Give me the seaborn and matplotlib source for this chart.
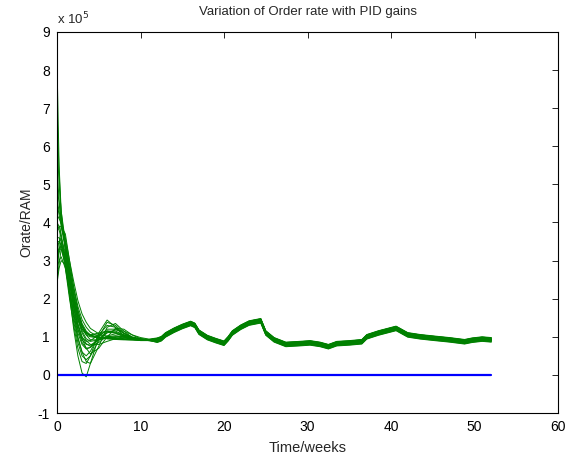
import numpy as np
import pandas as pd
import seaborn as sns
import matplotlib.pyplot as plt
from matplotlib.ticker import ScalarFormatter

# early transient, one row per PID gain setting (values in 1e5)
t_early = [0, 0.25, 0.5, 1, 1.5, 2, 2.5, 3, 3.5, 4, 5, 6, 7, 8, 9, 10, 11]
runs_early = [
    [8.2, 5.5, 4.3, 3.3, 2.5, 1.9, 1.45, 1.2, 1.05, 1.0, 0.97, 0.95, 0.94, 0.93, 0.92, 0.92, 0.92],
    [5.4, 4.6, 4.0, 3.4, 2.7, 2.1, 1.6, 1.3, 1.12, 1.04, 0.98, 0.96, 0.95, 0.93, 0.92, 0.92, 0.92],
    [2.6, 3.4, 3.9, 3.7, 3.0, 2.3, 1.7, 1.3, 1.05, 0.92, 0.92, 0.98, 1.0, 0.97, 0.94, 0.93, 0.92],
    [3.0, 3.3, 3.5, 3.0, 2.1, 1.2, 0.5, 0.05, -0.05, 0.3, 1.0, 1.38, 1.3, 1.1, 0.98, 0.92, 0.9],
    [3.5, 3.5, 3.4, 2.8, 2.0, 1.3, 0.7, 0.35, 0.3, 0.5, 1.1, 1.44, 1.25, 1.02, 0.93, 0.9, 0.9],
    [4.0, 3.9, 3.7, 3.0, 2.2, 1.5, 0.95, 0.6, 0.5, 0.62, 1.05, 1.3, 1.25, 1.08, 0.97, 0.93, 0.92],
    [3.2, 3.3, 3.3, 2.9, 2.2, 1.6, 1.1, 0.8, 0.68, 0.72, 1.0, 1.2, 1.2, 1.1, 1.0, 0.95, 0.93],
    [2.8, 3.0, 3.1, 2.8, 2.2, 1.65, 1.2, 0.92, 0.8, 0.78, 0.92, 1.1, 1.18, 1.15, 1.05, 0.98, 0.94],
    [4.5, 4.2, 3.9, 3.3, 2.6, 1.95, 1.5, 1.2, 1.08, 1.05, 1.1, 1.15, 1.1, 1.02, 0.96, 0.93, 0.92],
    [6.2, 5.0, 4.3, 3.5, 2.8, 2.1, 1.6, 1.28, 1.1, 1.02, 0.98, 0.97, 0.96, 0.94, 0.93, 0.92, 0.92],
    [3.8, 3.9, 3.9, 3.5, 2.9, 2.3, 1.8, 1.45, 1.25, 1.12, 1.0, 0.95, 0.93, 0.92, 0.92, 0.91, 0.91],
    [2.5, 2.9, 3.3, 3.2, 2.6, 2.0, 1.45, 1.1, 0.9, 0.8, 0.8, 0.88, 0.95, 0.98, 0.97, 0.94, 0.92],
    [3.6, 3.6, 3.5, 2.9, 2.1, 1.4, 0.85, 0.5, 0.4, 0.5, 0.9, 1.15, 1.15, 1.05, 0.97, 0.93, 0.91],
    [7.0, 5.3, 4.2, 3.3, 2.6, 2.0, 1.55, 1.25, 1.1, 1.05, 1.05, 1.02, 0.98, 0.95, 0.93, 0.92, 0.91],
    [3.3, 3.5, 3.6, 3.2, 2.5, 1.8, 1.3, 0.98, 0.88, 0.9, 1.05, 1.15, 1.12, 1.05, 0.98, 0.94, 0.92],
    [4.2, 4.1, 4.0, 3.6, 3.0, 2.45, 1.95, 1.6, 1.38, 1.22, 1.08, 1.0, 0.96, 0.94, 0.93, 0.92, 0.92],
    [2.4, 2.8, 3.0, 2.9, 2.4, 1.8, 1.3, 0.95, 0.7, 0.55, 0.7, 1.0, 1.22, 1.2, 1.05, 0.95, 0.91],
    [3.9, 3.8, 3.6, 3.1, 2.4, 1.75, 1.2, 0.85, 0.7, 0.72, 0.95, 1.12, 1.1, 1.0, 0.94, 0.92, 0.91],
    [5.0, 4.5, 4.1, 3.4, 2.7, 2.05, 1.5, 1.15, 0.95, 0.88, 0.92, 1.0, 1.03, 1.0, 0.95, 0.93, 0.92],
    [3.1, 3.3, 3.4, 3.0, 2.3, 1.6, 1.0, 0.6, 0.35, 0.3, 0.75, 1.25, 1.35, 1.15, 0.98, 0.92, 0.9],
    [4.6, 4.3, 4.0, 3.4, 2.8, 2.2, 1.7, 1.35, 1.15, 1.05, 0.97, 0.96, 1.0, 1.02, 0.98, 0.94, 0.92],
    [2.9, 3.2, 3.4, 3.1, 2.5, 1.9, 1.35, 1.0, 0.82, 0.75, 0.85, 1.02, 1.08, 1.04, 0.97, 0.93, 0.92],
]
# shared response after week 12 and the small spread of each run around it
t_tail = [12, 12.5, 13, 14, 15, 16, 16.5, 17, 18, 19, 20, 20.5, 21, 22, 23, 24.4, 25, 26,
          27.4, 29, 30.3, 31.5, 32.5, 33.5, 35, 36.5, 37.1, 38.5, 40.6, 42, 43.5, 45.2,
          47, 48.8, 49.7, 50.9, 52]
v_tail = [0.91, 0.95, 1.05, 1.17, 1.27, 1.35, 1.3, 1.12, 0.98, 0.9, 0.83, 0.95, 1.1, 1.25,
          1.36, 1.42, 1.1, 0.92, 0.8, 0.82, 0.84, 0.8, 0.74, 0.82, 0.84, 0.87, 1.0, 1.1,
          1.22, 1.05, 1.0, 0.96, 0.92, 0.87, 0.91, 0.94, 0.92]
tail_spread = [0.05, 0.03, -0.02, 0.0, -0.05, -0.01, 0.02, 0.06, 0.01, -0.03, 0.0,
               0.04, -0.06, -0.02, 0.02, 0.01, -0.04, 0.03, 0.0, -0.03, 0.05, -0.01]
t_ref = [0, 52]
v_ref = [0, 0]

rows = []
for i, run in enumerate(runs_early):
    for t, v in zip(t_early, run):
        rows.append((i, t, v * 1e5))
    for t, v in zip(t_tail, v_tail):
        rows.append((i, t, (v + tail_spread[i]) * 1e5))
df = pd.DataFrame(rows, columns=['run', 't', 'orate'])

sns.set_theme(style='white')
plt.rcParams['font.family'] = ['Liberation Sans', 'DejaVu Sans']
plt.rcParams['font.size'] = 9.5
plt.rcParams['axes.unicode_minus'] = False

fig = plt.figure(figsize=(5.74, 4.55), dpi=100)
ax = fig.add_axes([0.0993, 0.0923, 0.873, 0.8374])
sns.lineplot(data=df, x='t', y='orate', units='run', estimator=None, color='#008000',
             lw=0.7, ax=ax, legend=False)
sns.lineplot(x=t_ref, y=[v * 1e5 for v in v_ref], color='#0000ff', lw=1.6, ax=ax)

ax.set_xlim(0, 60)
ax.set_ylim(-1e5, 9e5)
ax.set_xticks(range(0, 61, 10))
ax.set_yticks(np.arange(-1, 10) * 1e5)
fmt = ScalarFormatter(useMathText=False)
fmt.set_powerlimits((0, 0))
ax.yaxis.set_major_formatter(fmt)
ax.yaxis.get_offset_text().set_visible(False)
ax.text(0.0, 1.012, r'x 10$^5$', transform=ax.transAxes, fontsize=9.5, va='bottom')

for s in ax.spines.values():
    s.set_color('black')
    s.set_linewidth(0.8)
ax.tick_params(direction='in', length=4, width=0.6, top=True, right=True,
               colors='black', labelsize=10, pad=5)
ax.set_title('Variation of Order rate with PID gains', fontsize=9.5, pad=12)
ax.set_xlabel('Time/weeks', fontsize=10.5, labelpad=5)
ax.set_ylabel('Orate/RAM', fontsize=10, labelpad=3)
fig.savefig('out.png', dpi=100)
